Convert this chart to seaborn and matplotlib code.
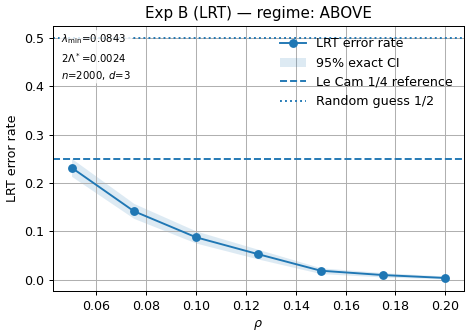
import matplotlib
matplotlib.use('Agg')
import matplotlib.pyplot as plt
import seaborn as sns
import pandas as pd

# Data
rho = [0.05, 0.075, 0.10, 0.125, 0.15, 0.175, 0.20]
err_rate = [0.232, 0.142, 0.088, 0.053, 0.019, 0.010, 0.004]
ci_low = [0.214, 0.127, 0.076, 0.043, 0.013, 0.006, 0.002]
ci_high = [0.251, 0.158, 0.101, 0.063, 0.025, 0.015, 0.008]
lecam_ref = 0.25
random_ref = 0.5
info_lines = [r"$\lambda_{\min}$=0.0843", r"$2\Lambda^*$=0.0024", r"$n$=2000, $d$=3"]

df = pd.DataFrame({"rho": rho, "err": err_rate})

DPI = 91
fig, ax = plt.subplots(figsize=(472 / DPI, 336 / DPI), dpi=DPI)
c0 = "#1f77b4"

sns.lineplot(data=df, x="rho", y="err", marker="o", markersize=7,
             markeredgewidth=0, color=c0, label="LRT error rate", ax=ax)
ax.fill_between(rho, ci_low, ci_high, color=c0, alpha=0.15, linewidth=0,
                label="95% exact CI")
ax.axhline(lecam_ref, color=c0, linestyle="--", label="Le Cam 1/4 reference")
ax.axhline(random_ref, color=c0, linestyle=":", label="Random guess 1/2")

ax.set_title("Exp B (LRT) — regime: ABOVE")
ax.set_xlabel(r"$\rho$")
ax.set_ylabel("LRT error rate")
ax.grid(True)

ax.text(0.02, 0.975, "\n".join(info_lines), transform=ax.transAxes,
        fontsize=8, va="top", ha="left", linespacing=1.4,
        bbox=dict(boxstyle="round,pad=0.15", facecolor="white", alpha=0.8, edgecolor="none"))

ax.legend(loc="upper right", frameon=False)

# match the reference margins
fig.subplots_adjust(left=0.112, right=0.983, top=0.923, bottom=0.134)
plt.savefig("out.png", dpi=DPI)
plt.close()
